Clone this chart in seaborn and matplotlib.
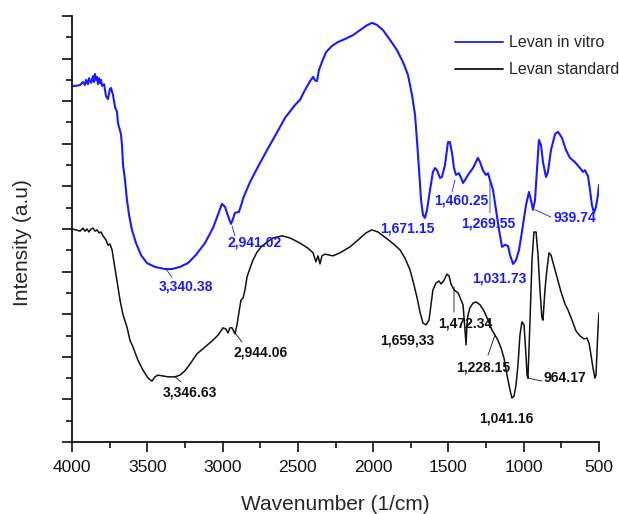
import numpy as np
import pandas as pd
import matplotlib
matplotlib.use("Agg")
import matplotlib.pyplot as plt
import seaborn as sns
from matplotlib.ticker import MultipleLocator

# ---------------- data ----------------
invitro_wn = [4000, 3973, 3947, 3927, 3914, 3907, 3894, 3887, 3874, 3860, 3854, 3847, 3841, 3834,
              3827, 3821, 3814, 3807, 3801, 3787, 3774, 3761, 3748, 3741, 3728, 3714, 3701, 3695,
              3688, 3675, 3668, 3661, 3648, 3635, 3621, 3602, 3575, 3542, 3502, 3449, 3382, 3336,
              3283, 3230, 3177, 3117, 3064, 3024, 3004, 2984, 2964, 2944, 2931, 2918, 2891, 2858,
              2818, 2765, 2705, 2652, 2585, 2519, 2486, 2453, 2419, 2399, 2386, 2373, 2360, 2340,
              2313, 2273, 2233, 2187, 2134, 2087, 2047, 2008, 1974, 1935, 1888, 1842, 1802, 1769,
              1742, 1722, 1709, 1695, 1682, 1669, 1656, 1642, 1622, 1603, 1589, 1576, 1556, 1543,
              1523, 1503, 1490, 1476, 1463, 1450, 1430, 1410, 1403, 1390, 1370, 1337, 1304, 1290,
              1271, 1251, 1237, 1224, 1204, 1184, 1164, 1144, 1124, 1104, 1091, 1071, 1051, 1031,
              1012, 985, 965, 952, 938, 925, 912, 899, 885, 872, 852, 839, 819, 792, 772, 746, 719,
              693, 660, 626, 606, 593, 573, 560, 547, 533, 520, 507, 500]
invitro_int = [83.6, 83.6, 83.8, 84.5, 83.8, 85.0, 84.0, 85.4, 84.3, 85.9, 84.5, 86.4, 85.0, 85.7,
               84.0, 85.4, 84.3, 85.0, 83.6, 84.0, 81.2, 80.5, 82.9, 83.1, 81.5, 78.6, 77.5, 74.9,
               74.0, 72.3, 69.7, 65.0, 61.5, 56.8, 53.3, 49.8, 46.7, 43.9, 42.0, 41.1, 40.6, 40.6,
               41.1, 42.0, 43.9, 46.7, 50.2, 54.0, 55.9, 55.2, 53.1, 51.2, 52.3, 53.8, 54.0, 57.7,
               61.0, 64.6, 68.5, 71.8, 76.1, 79.1, 80.3, 82.6, 84.7, 85.7, 84.9, 84.7, 87.3, 89.2,
               91.5, 93.0, 93.9, 94.6, 95.5, 96.7, 97.7, 98.4, 97.9, 96.7, 94.4, 92.0, 89.2, 86.2,
               81.5, 76.8, 70.9, 63.8, 56.8, 53.3, 52.6, 54.5, 59.2, 63.4, 64.3, 63.8, 62.0, 62.2,
               65.0, 70.4, 70.4, 67.8, 64.3, 62.7, 63.1, 61.5, 60.8, 61.5, 62.7, 64.3, 66.7, 65.7,
               63.8, 62.7, 63.1, 61.5, 59.2, 54.5, 49.8, 45.8, 46.3, 46.0, 43.9, 41.8, 42.7, 45.1,
               49.3, 55.6, 58.7, 56.8, 54.5, 56.8, 63.8, 70.9, 69.7, 65.7, 62.2, 63.4, 68.5, 72.3,
               72.8, 71.4, 68.5, 66.7, 65.7, 64.3, 63.4, 63.8, 62.4, 59.2, 55.6, 53.8, 55.2, 58.0,
               60.3]

standard_wn = [4000, 3973, 3947, 3927, 3914, 3900, 3887, 3874, 3860, 3847, 3834, 3821, 3807, 3794,
               3774, 3761, 3748, 3734, 3721, 3708, 3695, 3681, 3661, 3635, 3615, 3595, 3562, 3529,
               3495, 3469, 3449, 3429, 3396, 3362, 3316, 3283, 3250, 3216, 3170, 3117, 3070, 3030,
               2997, 2977, 2964, 2951, 2937, 2918, 2904, 2891, 2878, 2864, 2851, 2838, 2818, 2798,
               2771, 2738, 2705, 2665, 2605, 2552, 2486, 2433, 2399, 2380, 2366, 2353, 2340, 2320,
               2267, 2220, 2154, 2101, 2047, 2008, 1968, 1908, 1855, 1822, 1789, 1755, 1729, 1709,
               1689, 1669, 1649, 1629, 1616, 1603, 1583, 1563, 1549, 1529, 1510, 1496, 1483, 1463,
               1436, 1416, 1403, 1390, 1383, 1377, 1370, 1357, 1337, 1317, 1290, 1264, 1237, 1211,
               1191, 1171, 1151, 1131, 1111, 1091, 1078, 1064, 1051, 1038, 1025, 1012, 998, 985,
               978, 972, 958, 945, 932, 918, 905, 892, 879, 872, 859, 845, 832, 819, 799, 779, 752,
               726, 706, 679, 653, 626, 600, 580, 566, 553, 540, 527, 520, 513, 507, 500]
standard_int = [50.0, 49.8, 49.5, 50.2, 49.5, 50.0, 49.3, 50.0, 50.2, 49.5, 49.8, 49.1, 49.3, 48.4,
                47.4, 46.2, 46.5, 45.1, 42.3, 39.2, 36.4, 33.3, 29.8, 27.0, 23.9, 22.3, 19.2, 16.9,
                15.0, 14.3, 15.3, 15.7, 15.5, 15.3, 15.3, 15.7, 16.7, 18.3, 20.7, 22.3, 23.7, 25.1,
                26.8, 26.5, 25.6, 26.8, 26.8, 25.4, 27.5, 30.5, 33.3, 33.8, 35.7, 38.7, 40.8, 42.7,
                44.6, 46.0, 46.9, 47.9, 48.4, 47.9, 46.7, 45.5, 44.4, 42.3, 43.7, 41.8, 43.7, 44.1,
                43.7, 44.4, 45.8, 47.4, 49.1, 49.8, 49.3, 47.7, 46.2, 45.1, 43.2, 40.4, 36.9, 34.0,
                30.5, 27.9, 27.5, 28.6, 32.2, 35.7, 37.3, 37.8, 37.1, 38.0, 39.4, 39.0, 37.1, 35.7,
                35.0, 33.3, 32.2, 26.3, 22.8, 27.5, 29.8, 31.5, 32.6, 32.9, 32.2, 30.8, 28.6, 26.3,
                25.1, 23.9, 22.1, 19.7, 15.7, 12.2, 10.3, 10.8, 13.4, 18.1, 25.1, 28.2, 27.5, 20.4,
                15.7, 15.0, 28.6, 42.7, 49.3, 49.3, 43.9, 35.7, 29.1, 28.6, 35.7, 40.8, 44.4, 43.9,
                41.3, 38.7, 35.2, 32.4, 31.0, 28.6, 26.1, 24.9, 24.2, 24.4, 23.2, 20.4, 17.4, 15.0,
                15.7, 21.6, 26.3, 30.3]

series_names = ["Levan in vitro", "Levan standard"]
series_colors = ["#1a1aff", "#111111"]

# peak labels: text, text position (wn, intensity), leader line start / end or None
blue_labels = ["3,340.38", "2,941.02", "1,671.15", "1,460.25", "1,269.55", "939.74", "1,031.73"]
blue_label_pos = [(3243, 36.4), (2785, 46.9), (1775, 50.2), (1417, 56.8), (1237, 51.4), (660, 52.6), (1164, 38.3)]
blue_leaders = [((3376, 40.6), (3336, 38.7)), ((2937, 50.7), (2918, 48.4)), None,
                ((1457, 61.5), (1476, 58.7)), ((1224, 61.0), (1224, 53.8)),
                ((925, 54.5), (819, 52.8)), None]

black_labels = ["3,346.63", "2,944.06", "1,659,33", "1,472.34", "1,228.15", "964.17", "1,041.16"]
black_label_pos = [(3216, 11.7), (2745, 21.1), (1775, 23.9), (1390, 27.7), (1271, 17.6), (726, 15.0), (1118, 5.4)]
black_leaders = [((3316, 15.3), (3276, 14.1)), ((2918, 25.6), (2871, 23.5)), None,
                 ((1463, 36.4), (1463, 30.5)), ((1191, 25.1), (1237, 20.4)),
                 ((972, 15.0), (879, 14.3)), None]

# ---------------- figure ----------------
sns.set_style("ticks")
plt.rcParams["font.family"] = ["Liberation Sans", "DejaVu Sans"]

W, H = 619, 514
fig = plt.figure(figsize=(W / 100, H / 100), dpi=100)
ax = fig.add_axes([72 / W, 72 / H, 527 / W, 426 / H])

df = pd.concat([
    pd.DataFrame({"wn": invitro_wn, "I": invitro_int, "s": series_names[0]}),
    pd.DataFrame({"wn": standard_wn, "I": standard_int, "s": series_names[1]}),
])
sns.lineplot(data=df, x="wn", y="I", hue="s", palette=dict(zip(series_names, series_colors)),
             estimator=None, ax=ax, linewidth=1.3, legend=True)
for ln, lw in zip(ax.lines[:2], [1.5, 1.1]):
    ln.set_linewidth(lw)

ax.set_xlim(4000, 500)
ax.set_ylim(0, 100)
ax.xaxis.set_major_locator(MultipleLocator(500))
ax.xaxis.set_minor_locator(MultipleLocator(250))
ax.yaxis.set_major_locator(MultipleLocator(10))
ax.yaxis.set_minor_locator(MultipleLocator(5))
ax.set_yticklabels([])
ax.tick_params(axis="both", which="major", direction="out", length=7, width=1.2, colors="#111111")
ax.tick_params(axis="both", which="minor", direction="out", length=4, width=1.2, colors="#111111")
ax.tick_params(axis="x", labelsize=12.5, pad=6)
for side in ["top", "right"]:
    ax.spines[side].set_visible(False)
for side in ["left", "bottom"]:
    ax.spines[side].set_linewidth(1.3)
    ax.spines[side].set_color("#111111")

ax.set_xlabel("Wavenumber (1/cm)", fontsize=15, labelpad=14)
ax.set_ylabel("Intensity (a.u)", fontsize=15)
ax.yaxis.set_label_coords(-0.076, 0.467)

def put_labels(labels, positions, leaders, color):
    for t, (x, y), ld in zip(labels, positions, leaders):
        ax.text(x, y, t, color=color, fontsize=10, fontweight="bold", ha="center", va="center")
        if ld is not None:
            ax.annotate("", xy=ld[0], xytext=ld[1],
                        arrowprops=dict(arrowstyle="-", lw=0.6, color=color, shrinkA=0, shrinkB=0))

put_labels(blue_labels, blue_label_pos, blue_leaders, series_colors[0])
put_labels(black_labels, black_label_pos, black_leaders, series_colors[1])

leg = ax.legend(loc="upper left", bbox_to_anchor=(0.727, 0.955), frameon=False, fontsize=11.5,
                handlelength=3, handletextpad=0.4, labelspacing=0.75, borderpad=0, borderaxespad=0)
leg.set_title(None)

fig.savefig("out.png", dpi=100)
